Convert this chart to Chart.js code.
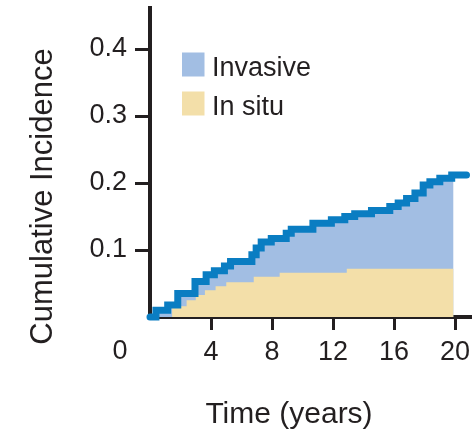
<!DOCTYPE html>
<html>
<head>
<meta charset="utf-8">
<script src="https://cdn.jsdelivr.net/npm/chart.js@4.4.1/dist/chart.umd.min.js"></script>
<style>
  html, body { margin: 0; padding: 0; background: #ffffff; }
  #wrap { width: 472px; height: 435px; }
</style>
</head>
<body>
<div id="wrap"><canvas id="chart" width="472" height="435"></canvas></div>
<script>
// Cumulative incidence of any event (invasive + in situ), stepped curve
const totalYears = [0, 0.39, 1.16, 1.82, 2.95, 3.68, 4.22, 4.88, 5.28, 6.68, 6.96, 7.29, 7.95, 8.93, 9.26,
                    10.68, 11.89, 12.77, 13.42, 14.52, 15.72, 16.27, 16.82, 17.37, 17.91, 18.35, 19.0, 19.78, 20.75];
const totalIncidence = [0, 0.010, 0.018, 0.035, 0.053, 0.063, 0.069, 0.076, 0.083, 0.093, 0.103, 0.112, 0.117, 0.125, 0.131,
                        0.140, 0.145, 0.150, 0.154, 0.159, 0.165, 0.170, 0.177, 0.185, 0.197, 0.202, 0.207, 0.212, 0.212];

// Cumulative incidence of in situ events
const inSituYears = [0, 1.45, 2.4, 3.0, 3.6, 4.3, 5.0, 6.8, 8.5, 12.9, 19.9];
const inSituIncidence = [0, 0.016, 0.025, 0.033, 0.040, 0.046, 0.052, 0.060, 0.066, 0.072, 0.072];

// Shaded areas stop at the end of follow-up
const followUpEnd = 19.9;

const xTicks = [4, 8, 12, 16, 20];
const yTicks = [0.1, 0.2, 0.3, 0.4];

const seriesLabels = ['Invasive', 'In situ'];
const xTitle = 'Time (years)';
const yTitle = 'Cumulative Incidence';
const originLabel = '0';

const INK = '#231f20';
const BLUE_FILL = '#a2bee3';
const SAND_FILL = '#f3dfa9';
const LINE_BLUE = '#0a7dc2';
const FONT = "'Liberation Sans', Arial, sans-serif";

const toPoints = (xs, ys) => xs.map((x, i) => ({ x: x, y: ys[i] }));

const totalPoints = toPoints(totalYears, totalIncidence);
const totalShaded = totalPoints.filter(p => p.x <= followUpEnd);
totalShaded.push({ x: followUpEnd, y: totalShaded[totalShaded.length - 1].y });

// Axis titles, the shared origin label and the in-plot key
const decorations = {
  id: 'decorations',
  afterDraw(chart) {
    const { ctx, chartArea, scales } = chart;
    const xs = scales.x;
    ctx.save();
    ctx.fillStyle = INK;

    // shared "0" at the corner, on the x tick-label row
    ctx.font = '27px ' + FONT;
    ctx.textAlign = 'center';
    ctx.textBaseline = 'middle';
    ctx.fillText(originLabel, chartArea.left - 30, xs.top + 35);

    // x title
    ctx.font = '30px ' + FONT;
    ctx.textBaseline = 'alphabetic';
    ctx.fillText(xTitle, chartArea.left + 139, chartArea.bottom + 106);

    // y title
    ctx.save();
    ctx.translate(chartArea.left - 98, (chartArea.top + chartArea.bottom) / 2 + 34);
    ctx.rotate(-Math.PI / 2);
    ctx.font = '31px ' + FONT;
    ctx.textAlign = 'center';
    ctx.fillText(yTitle, 0, 0);
    ctx.restore();

    // key
    const keyColors = [chart.data.datasets[0].backgroundColor, chart.data.datasets[1].backgroundColor];
    const kx = chartArea.left + 32, ky = chartArea.top + 44.5;
    ctx.font = '27px ' + FONT;
    ctx.textAlign = 'left';
    keyColors.forEach((c, i) => {
      const y = ky + i * 39;
      ctx.fillStyle = c;
      ctx.fillRect(kx, y, 22.5, 24);
      ctx.fillStyle = INK;
      ctx.fillText(seriesLabels[i], kx + 30, y + 23.3);
    });
    ctx.restore();
  }
};

const tickGrid = (len) => ({
  drawOnChartArea: false,
  drawTicks: true,
  tickLength: len,
  lineWidth: 3,
  color: INK
});

new Chart(document.getElementById('chart'), {
  type: 'line',
  data: {
    datasets: [
      {
        label: seriesLabels[0],
        data: totalShaded,
        stepped: 'before',
        borderWidth: 0,
        pointRadius: 0,
        backgroundColor: BLUE_FILL,
        fill: 'origin',
        order: 3
      },
      {
        label: seriesLabels[1],
        data: toPoints(inSituYears, inSituIncidence),
        stepped: 'before',
        borderWidth: 0,
        pointRadius: 0,
        backgroundColor: SAND_FILL,
        fill: 'origin',
        order: 2
      },
      {
        label: 'Total',
        data: totalPoints,
        stepped: 'before',
        borderColor: LINE_BLUE,
        borderWidth: 7,
        borderJoinStyle: 'miter',
        borderCapStyle: 'round',
        pointRadius: 0,
        fill: false,
        clip: false,
        order: 1
      }
    ]
  },
  options: {
    responsive: false,
    animation: false,
    devicePixelRatio: 1,
    layout: { padding: { left: 0, right: 0, top: 8, bottom: 0 } },
    plugins: { legend: { display: false }, tooltip: { enabled: false } },
    scales: {
      x: {
        type: 'linear',
        min: 0,
        max: 21.11,
        afterFit(s) { s.height = 118; s.paddingLeft = 0; s.paddingRight = 0; },
        afterBuildTicks(s) { s.ticks = xTicks.map(v => ({ value: v })); },
        grid: tickGrid(13),
        border: { display: true, width: 4, color: INK },
        ticks: {
          autoSkip: false,
          maxRotation: 0,
          padding: 6,
          color: INK,
          font: { family: FONT, size: 27 },
          callback: v => String(v)
        }
      },
      y: {
        type: 'linear',
        min: 0,
        max: 0.4612,
        afterFit(s) { s.width = 150; s.paddingTop = 0; s.paddingBottom = 0; },
        afterBuildTicks(s) { s.ticks = yTicks.map(v => ({ value: v })); },
        grid: tickGrid(15),
        border: { display: true, width: 4, color: INK },
        ticks: {
          padding: 8,
          color: INK,
          font: { family: FONT, size: 27 },
          callback: v => v.toFixed(1)
        }
      }
    }
  },
  plugins: [decorations]
});
</script>
</body>
</html>
